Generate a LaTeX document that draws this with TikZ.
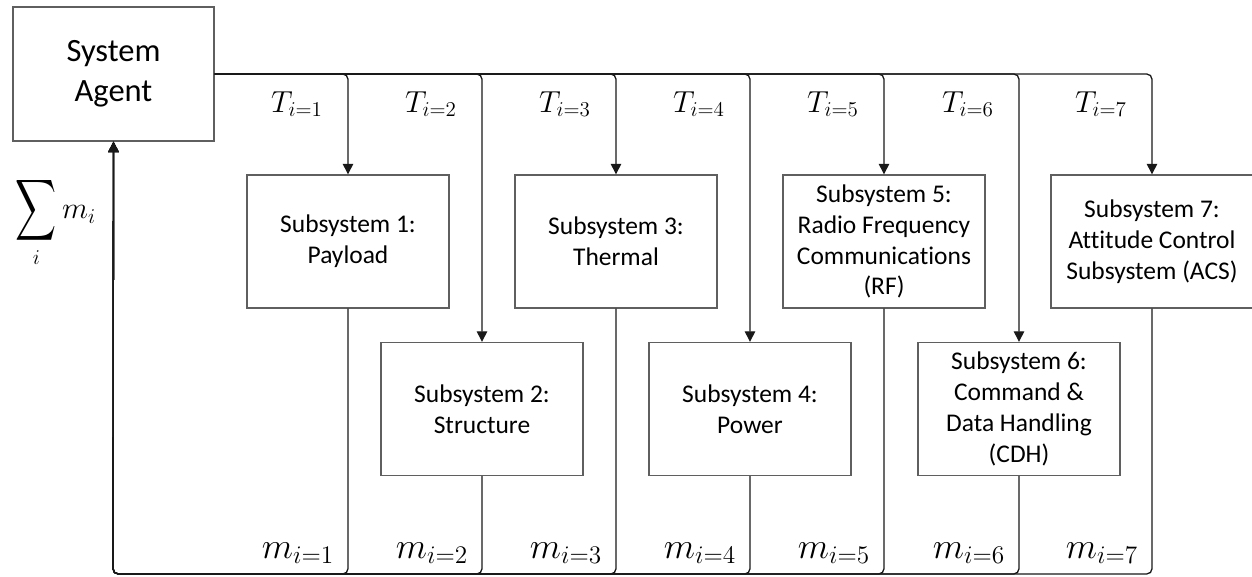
\documentclass[tikz,border=0pt]{standalone}
\usepackage{amsmath,amssymb}
\usepackage{graphicx}
\usepackage{fontspec}
\setmainfont{Carlito}[Ligatures=NoCommon]
\usepackage{tikz}
\usetikzlibrary{arrows.meta}
\definecolor{figline}{RGB}{25,25,25}
\definecolor{figbox}{RGB}{95,95,95}
\tikzset{
  blk/.style ={draw=figbox, line width=0.8pt, minimum width=4.04cm, minimum height=2.66cm, align=center, inner sep=2pt, font=\fontsize{14.5}{17.6}\selectfont},
  agt/.style ={blk, minimum width=4.02cm, minimum height=2.68cm, font=\fontsize{18.5}{22.7}\selectfont},
  flw/.style ={draw=figline, line width=0.75pt, rounded corners=3pt, -{Triangle[length=6pt,width=6pt]}},
  lab/.style ={font=\fontsize{18}{21}\selectfont, inner sep=0pt},
  labm/.style ={font=\fontsize{21}{24}\selectfont, inner sep=0pt},
}
\begin{document}
\begin{tikzpicture}[x=0.02cm,y=-0.02cm]
  \useasboundingbox (0,0) rectangle (1252,577);
  % boxes
  \node[agt] (agent) at (113.5,74) {System\\Agent};
  \node[blk] (s1) at (348,241.5) {Subsystem 1:\\Payload};
  \node[blk] (s2) at (482,409) {Subsystem 2:\\Structure};
  \node[blk] (s3) at (616,241.5) {Subsystem 3:\\Thermal};
  \node[blk] (s4) at (750,409) {Subsystem 4:\\Power};
  \node[blk] (s5) at (884,241.5) {Subsystem 5:\\Radio Frequency\\Communications\\(RF)};
  \node[blk] (s6) at (1019,409) {Subsystem 6:\\Command \&\\Data Handling\\(CDH)};
  \node[blk] (s7) at (1152,241.5) {Subsystem 7:\\Attitude Control\\Subsystem (ACS)};
  % tasks out
  \draw[flw] (agent.east) -| (s1.north);
  \draw[flw] (agent.east) -| (s2.north);
  \draw[flw] (agent.east) -| (s3.north);
  \draw[flw] (agent.east) -| (s4.north);
  \draw[flw] (agent.east) -| (s5.north);
  \draw[flw] (agent.east) -| (s6.north);
  \draw[flw] (agent.east) -| (s7.north);
  \node[lab] (t1) at (297,104) {$T_{i=1}$};
  \node[lab] (t2) at (431,104) {$T_{i=2}$};
  \node[lab] (t3) at (565,104) {$T_{i=3}$};
  \node[lab] (t4) at (699,104) {$T_{i=4}$};
  \node[lab] (t5) at (833,104) {$T_{i=5}$};
  \node[lab] (t6) at (968,104) {$T_{i=6}$};
  \node[lab] (t7) at (1101,104) {$T_{i=7}$};
  % masses back
  \coordinate (ret) at (113,574);
  \draw[flw] (s1.south) |- (ret) -- (agent.south);
  \draw[flw] (s2.south) |- (ret) -- (agent.south);
  \draw[flw] (s3.south) |- (ret) -- (agent.south);
  \draw[flw] (s4.south) |- (ret) -- (agent.south);
  \draw[flw] (s5.south) |- (ret) -- (agent.south);
  \draw[flw] (s6.south) |- (ret) -- (agent.south);
  \draw[flw] (s7.south) |- (ret) -- (agent.south);
  \node[labm] (m1) at (298,553) {$m_{i=1}$};
  \node[labm] (m2) at (432,553) {$m_{i=2}$};
  \node[labm] (m3) at (566,553) {$m_{i=3}$};
  \node[labm] (m4) at (700,553) {$m_{i=4}$};
  \node[labm] (m5) at (834,553) {$m_{i=5}$};
  \node[labm] (m6) at (969,553) {$m_{i=6}$};
  \node[labm] (m7) at (1102,553) {$m_{i=7}$};
  \node[lab] (msum) at (56,222) {$\mathop{\vcenter{\hbox{\scalebox{0.9}[1.35]{$\displaystyle\sum$}}}}\limits_{i} m_i$};
\end{tikzpicture}
\end{document}
